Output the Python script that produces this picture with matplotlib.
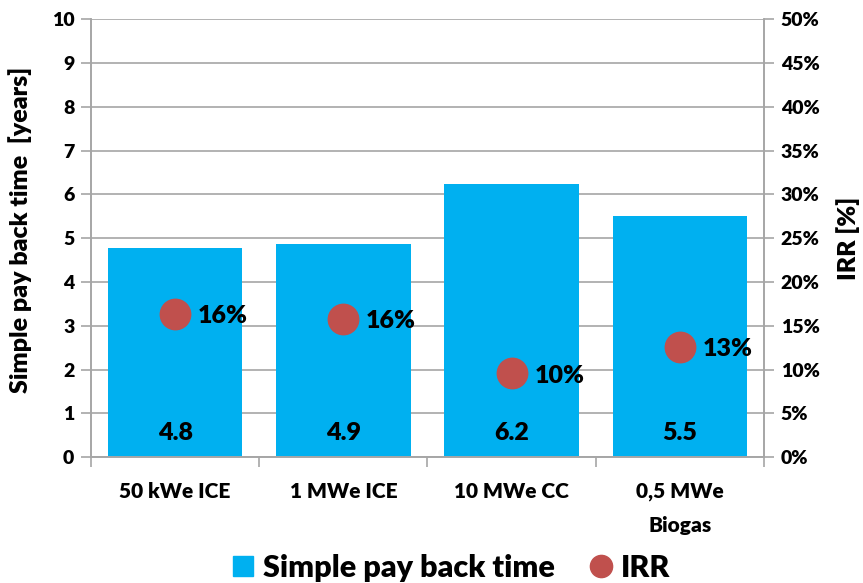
import matplotlib
matplotlib.use("Agg")
import matplotlib.pyplot as plt
from matplotlib.lines import Line2D
from matplotlib.ticker import FuncFormatter, FixedLocator

categories = ["50 kWe ICE", "1 MWe ICE", "10 MWe CC", "0,5 MWe\nBiogas"]
payback_years = [4.77, 4.86, 6.23, 5.51]
payback_labels = ["4.8", "4.9", "6.2", "5.5"]
irr_pct = [16.4, 15.8, 9.6, 12.6]
irr_labels = ["16%", "16%", "10%", "13%"]

BAR_C = "#00B0F0"
DOT_C = "#C0504D"
GRID_C = "#A6A6A6"
FONT = ["Lato", "DejaVu Sans"]
W = "heavy"

plt.rcParams["font.family"] = FONT
plt.rcParams["font.weight"] = W

fig = plt.figure(figsize=(8.63, 5.83), dpi=100)
ax = fig.add_axes([0.1054, 0.216, 0.7798, 0.7507])
ax2 = ax.twinx()

x = list(range(len(categories)))
ax.bar(x, payback_years, width=0.8, color=BAR_C, zorder=2)
ax.set_xlim(-0.5, len(categories) - 0.5)
ax.set_ylim(0, 10)
ax.set_yticks(range(0, 11))
ax.grid(axis="y", color=GRID_C, linewidth=1.2, zorder=0)
ax.set_axisbelow(True)

for xi, v, lab in zip(x, payback_years, payback_labels):
    ax.text(xi, 0.55, lab, ha="center", va="center", fontsize=18, fontweight=W, color="black", zorder=4)

ax2.set_ylim(0, 50)
ax2.set_yticks(range(0, 51, 5))
ax2.yaxis.set_major_formatter(FuncFormatter(lambda v, p: f"{int(v)}%"))
ax2.scatter(x, irr_pct, s=480, color=DOT_C, zorder=5)
for xi, v, lab in zip(x, irr_pct, irr_labels):
    ax2.text(xi + 0.135, v - 0.3, lab, ha="left", va="center", fontsize=18, fontweight=W, color="black", zorder=6)

ax.xaxis.set_major_locator(FixedLocator([i - 0.5 for i in range(len(categories) + 1)]))
ax.xaxis.set_minor_locator(FixedLocator(x))
ax.set_xticklabels([""] * (len(categories) + 1))
ax.set_xticklabels(categories, minor=True, fontsize=15, fontweight=W, linespacing=1.95)
ax.tick_params(axis="x", which="major", length=7, color=GRID_C, width=1.2, direction="out")
ax.tick_params(axis="x", which="minor", length=0, pad=18)
ax.tick_params(axis="y", length=7, color=GRID_C, width=1.2, labelsize=14, pad=5)
ax2.tick_params(axis="y", length=7, color=GRID_C, width=1.2, labelsize=14, pad=5)
for lab in ax.get_yticklabels() + ax2.get_yticklabels():
    lab.set_fontweight(W)

for a in (ax, ax2):
    a.spines["top"].set_visible(False)
    for s in ("left", "right", "bottom"):
        a.spines[s].set_color(GRID_C)
        a.spines[s].set_linewidth(1.2)

ax.set_ylabel("Simple pay back time  [years]", fontsize=18, fontweight=W)
ax.yaxis.set_label_coords(-0.087, 0.518)
ax2.set_ylabel("IRR [%]", fontsize=18, fontweight=W, labelpad=12)

handles = [
    Line2D([0], [0], marker="s", color="none", markerfacecolor=BAR_C, markeredgecolor=BAR_C, markersize=14),
    Line2D([0], [0], marker="o", color="none", markerfacecolor=DOT_C, markeredgecolor=DOT_C, markersize=16),
]
fig.legend(handles, ["Simple pay back time", "IRR"], loc="lower center", bbox_to_anchor=(0.523, -0.045),
           ncol=2, frameon=False, prop={"family": FONT, "weight": W, "size": 22},
           handlelength=0.7, handletextpad=0.3, columnspacing=1.15)

fig.savefig("out.png", dpi=100)
